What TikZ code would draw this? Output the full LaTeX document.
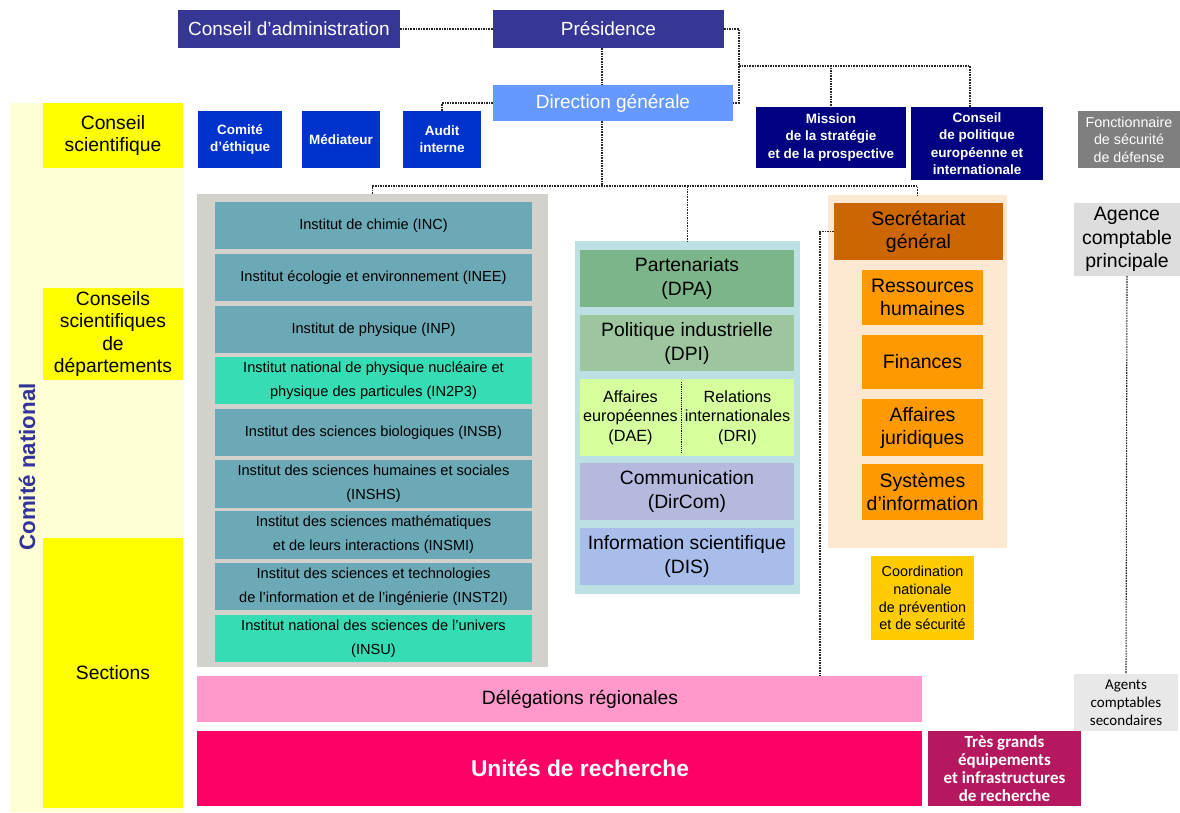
\documentclass[tikz,border=0pt]{standalone}
\usepackage{fontspec}
\setmainfont{Liberation Sans}
\newfontfamily\calfont{Carlito}
\newcommand\fs[2]{\fontsize{#1}{#2}\selectfont}
\definecolor{cadark}{HTML}{363696}
\definecolor{dgblue}{HTML}{6699FF}
\definecolor{smallblue}{HTML}{0033CC}
\definecolor{navyb}{HTML}{000080}
\definecolor{fsdgray}{HTML}{7F7F7F}
\definecolor{agcgray}{HTML}{DDDDDD}
\definecolor{agentsgray}{HTML}{E8E8E8}
\definecolor{paleyel}{HTML}{FFFFD6}
\definecolor{yel}{HTML}{FFFF00}
\definecolor{instgray}{HTML}{D3D1CC}
\definecolor{tealb}{HTML}{6CA9B6}
\definecolor{turq}{HTML}{36DDB4}
\definecolor{midcyan}{HTML}{BCE0E4}
\definecolor{dpacol}{HTML}{7DB58A}
\definecolor{dpicol}{HTML}{9DC69F}
\definecolor{daecol}{HTML}{D6FF9E}
\definecolor{dircomcol}{HTML}{B6B9DE}
\definecolor{discol}{HTML}{A9BDEB}
\definecolor{sgbgcol}{HTML}{FCE7D1}
\definecolor{sgcol}{HTML}{CC6600}
\definecolor{orng}{HTML}{FF9900}
\definecolor{coordcol}{HTML}{FFCC00}
\definecolor{delegcol}{HTML}{FF99CC}
\definecolor{unitescol}{HTML}{FF0066}
\definecolor{tgecol}{HTML}{B5185F}
\definecolor{cntext}{HTML}{333399}
\tikzset{
  box/.style={rectangle, draw=none, inner sep=1pt, outer sep=0pt, align=center, text=black},
  conn/.style={draw=black!85, line width=1.1pt, dash pattern=on 1.6pt off 1pt},
  topblue/.style={fill=cadark, text=white, font=\fs{19}{22}},
  smallb/.style={fill=smallblue, text=white, font=\bfseries\fs{13.5}{17}},
  navybox/.style={fill=navyb, text=white, font=\bfseries\fs{13.5}{17.5}},
  yelbox/.style={fill=yel, font=\fs{19.3}{22.5}},
  inst/.style={fill=tealb, font=\fs{14.6}{24}},
  instt/.style={fill=turq, font=\fs{14.6}{24}},
  midbox/.style={font=\fs{19.3}{24}},
  orbox/.style={fill=orng, font=\fs{19.5}{23}}
}
\newcommand\bx[7]{\node[box,#2,minimum width={(#5)-(#3)},minimum height={(#6)-(#4)}] (#1) at ({((#3)+(#5))/2},{((#4)+(#6))/2}) {#7};}
\begin{document}
\begin{tikzpicture}[x=1pt,y=-1pt]
\useasboundingbox (0,0) rectangle (1180,812);
\fill[white] (0,0) rectangle (1180,812);
% backgrounds
\bx{cnbg}{fill=paleyel}{10}{103}{184}{812}{}
\bx{instbg}{fill=instgray}{197}{194}{548}{667}{}
\bx{midbg}{fill=midcyan}{575}{241}{800}{594}{}
\bx{sgbg}{fill=sgbgcol}{828}{195}{1007}{548}{}
% top
\bx{ca}{topblue}{178}{10}{400}{48}{Conseil d’administration}
\bx{pres}{topblue}{493}{10}{724}{48}{Présidence}
\bx{dg}{topblue,fill=dgblue}{493}{85}{733}{121}{Direction générale}
\bx{ethique}{smallb}{198}{111}{282}{168}{Comité\\d’éthique}
\bx{med}{smallb}{302}{111}{380}{168}{Médiateur}
\bx{audit}{smallb}{403}{111}{481}{168}{Audit\\interne}
\bx{mission}{navybox}{756}{107}{906}{168}{Mission\\de la stratégie\\et de la prospective}
\bx{cpei}{navybox}{911}{107}{1043}{180}{Conseil\\de politique\\européenne et\\internationale}
\bx{fsd}{fill=fsdgray,text=white,font=\fs{14.3}{17.5}}{1078}{111}{1180}{168}{Fonctionnaire\\de sécurité\\de défense}
\bx{agence}{fill=agcgray,font=\fs{19.5}{23.5}}{1074}{203}{1180}{276}{Agence\\comptable\\principale}
\bx{agents}{fill=agentsgray,font=\calfont\fs{15}{18}}{1074}{674}{1178}{731}{Agents\\comptables\\secondaires}
% Comite national
\bx{cs}{yelbox}{43}{103}{183}{168}{Conseil\\scientifique}
\bx{csd}{yelbox}{43}{288}{183}{380}{Conseils\\scientifiques\\de\\départements}
\bx{sections}{yelbox}{43}{538}{183}{808}{Sections}
\node[rotate=90, text=cntext, font=\bfseries\fs{22.3}{24}, inner sep=0pt] (cntitle) at (27,467) {Comité national};
% institutes
\bx{inc}{inst}{215}{202}{532}{249}{Institut de chimie (INC)}
\bx{inee}{inst}{215}{254}{532}{301}{Institut écologie et environnement (INEE)}
\bx{inp}{inst}{215}{306}{532}{353}{Institut de physique (INP)}
\bx{in2p3}{instt}{215}{357}{532}{404}{Institut national de physique nucléaire et\\physique des particules (IN2P3)}
\bx{insb}{inst}{215}{409}{532}{456}{Institut des sciences biologiques (INSB)}
\bx{inshs}{inst}{215}{460}{532}{508}{Institut des sciences humaines et sociales\\(INSHS)}
\bx{insmi}{inst}{215}{511}{532}{559}{Institut des sciences mathématiques\\et de leurs interactions (INSMI)}
\bx{inst2i}{inst}{215}{563}{532}{610}{Institut des sciences et technologies\\de l’information et de l’ingénierie (INST2I)}
\bx{insu}{instt}{215}{615}{532}{662}{Institut national des sciences de l’univers\\(INSU)}
% middle
\bx{dpa}{midbox,fill=dpacol}{580}{250}{794}{307}{Partenariats\\(DPA)}
\bx{dpi}{midbox,fill=dpicol}{580}{315}{794}{371}{Politique industrielle\\(DPI)}
\bx{dae}{fill=daecol,font=\fs{16.2}{19.5}}{580}{379}{681}{456}{Affaires\\européennes\\(DAE)}
\bx{dri}{fill=daecol,font=\fs{16.2}{19.5}}{681}{379}{794}{456}{Relations\\internationales\\(DRI)}
\bx{dircom}{midbox,fill=dircomcol}{580}{463}{794}{520}{Communication\\(DirCom)}
\bx{dis}{midbox,fill=discol}{580}{528}{794}{585}{Information scientifique\\(DIS)}
\draw[black, line width=0.9pt, dash pattern=on 1.2pt off 1pt] ([yshift=-3]dae.north east) -- ([yshift=3]dae.south east);
% secretariat
\bx{sg}{fill=sgcol,font=\fs{19.5}{23}}{834}{203}{1003}{260}{Secrétariat\\général}
\bx{rh}{orbox}{862}{270}{983}{325}{Ressources\\humaines}
\bx{fin}{orbox}{862}{335}{983}{389}{Finances}
\bx{aj}{orbox}{862}{399}{983}{456}{Affaires\\juridiques}
\bx{si}{orbox}{862}{464}{983}{520}{Systèmes\\d’information}
\bx{coord}{fill=coordcol,font=\fs{14.4}{17.7}}{871}{556}{974}{640}{Coordination\\nationale\\de prévention\\et de sécurité}
% bottom
\bx{deleg}{fill=delegcol}{197}{676}{922}{722}{}
\bx{unites}{fill=unitescol}{197}{731}{922}{806}{}
\node[font=\fs{19.3}{22}, text=black, inner sep=0pt] (delegtxt) at (580,699) {Délégations régionales};
\node[font=\bfseries\fs{22.8}{24}, text=white, inner sep=0pt] (unitestxt) at (580,768.5) {Unités de recherche};
\bx{tge}{fill=tgecol,text=white,font=\calfont\bfseries\fs{17}{18}}{928}{731}{1081}{806}{Très grands\\équipements\\et infrastructures\\de recherche}
% connectors
\coordinate (j1) at (739,66);
\coordinate (bus) at (602,186);
\coordinate (sgdrop) at (820,676);
\draw[conn] (ca.east) -- (pres.west);
\draw[conn] (bus |- pres.south) -- (bus |- dg.north);
\draw[conn] (pres.east) -| (j1) |- (dg.east);
\draw[conn] (j1) -| (mission.north);
\draw[conn] (j1) -| ([xshift=-7]cpei.north);
\draw[conn] (dg.west) -| (audit.north);
\draw[conn] (bus |- dg.south) -- (bus);
\draw[conn] (instbg.north) |- (bus) -| (sgbg.north);
\draw[conn] (midbg.north |- bus) -- (midbg.north);
\draw[conn] (sg.west) -| (sgdrop);
\draw[conn] (agence.south) -- (agents.north);
\end{tikzpicture}
\end{document}
